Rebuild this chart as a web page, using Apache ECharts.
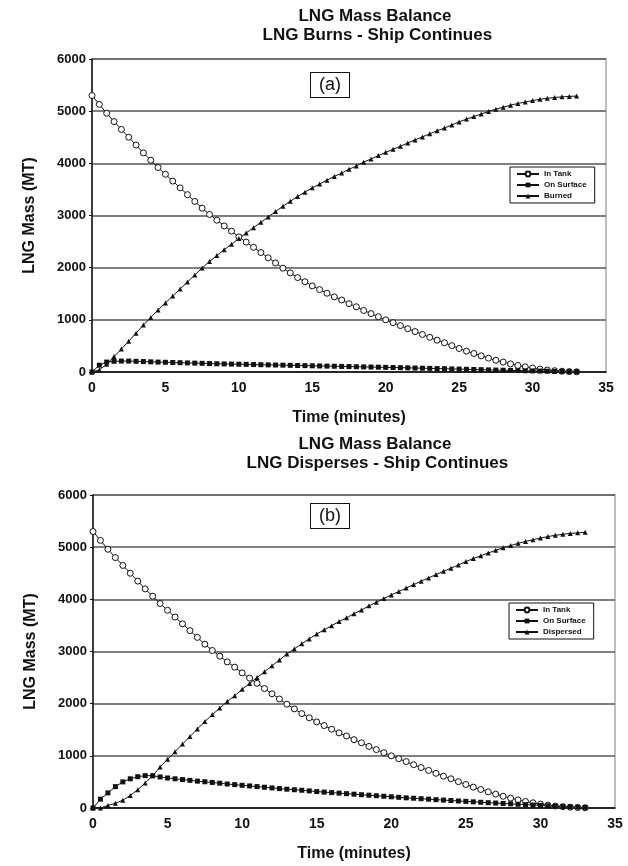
<!DOCTYPE html>
<html><head><meta charset="utf-8">
<script src="https://cdn.jsdelivr.net/npm/echarts@6/dist/echarts.min.js"></script>
<style>html,body{margin:0;padding:0;background:#fff}#c{width:628px;height:866px}</style>
</head><body><div id="c"></div>
<script>
const times = [0,0.5,1,1.5,2,2.5,3,3.5,4,4.5,5,5.5,6,6.5,7,7.5,8,8.5,9,9.5,10,10.5,11,11.5,12,12.5,13,13.5,14,14.5,15,15.5,16,16.5,17,17.5,18,18.5,19,19.5,20,20.5,21,21.5,22,22.5,23,23.5,24,24.5,25,25.5,26,26.5,27,27.5,28,28.5,29,29.5,30,30.5,31,31.5,32,32.5,33];
const inTankA = [5300,5130,4960,4800,4650,4500,4350,4200,4060,3920,3790,3660,3530,3400,3270,3140,3020,2910,2800,2700,2590,2490,2390,2290,2190,2090,1990,1900,1810,1730,1650,1580,1510,1440,1380,1310,1250,1180,1120,1060,1000,945,890,830,775,720,665,610,560,505,450,400,355,310,265,225,190,155,125,100,75,55,38,25,15,8,4];
const surfaceA = [0,130,190,205,210,210,205,200,195,190,186,182,178,174,170,166,162,158,155,152,149,146,143,140,137,134,131,128,125,122,119,116,113,110,107,104,101,98,95,92,89,86,83,80,76,73,70,66,63,59,56,52,48,45,41,37,34,30,27,24,21,18,15,13,11,9,7];
const burnedA = [0,40,150,295,440,590,745,900,1045,1190,1324,1458,1592,1726,1860,1994,2118,2232,2345,2448,2561,2664,2767,2870,2973,3076,3179,3272,3365,3448,3531,3604,3677,3750,3813,3886,3949,4022,4085,4148,4211,4269,4327,4390,4449,4507,4565,4624,4677,4736,4794,4848,4897,4945,4994,5038,5076,5115,5148,5176,5204,5227,5247,5262,5274,5283,5289];
const inTankB = [5300,5130,4960,4800,4650,4500,4350,4200,4060,3920,3790,3660,3530,3400,3270,3140,3020,2910,2800,2700,2590,2490,2390,2290,2190,2090,1990,1900,1810,1730,1650,1580,1510,1440,1380,1310,1250,1180,1120,1060,1000,945,890,830,775,720,665,610,560,505,450,400,355,310,265,225,190,155,125,100,75,55,38,25,15,8,4];
const surfaceB = [0,170,290,410,500,560,600,620,620,595,575,560,545,530,515,503,490,475,460,448,435,423,410,398,385,372,360,350,340,328,315,305,295,285,275,265,255,245,235,225,215,205,195,187,178,169,160,152,143,135,127,118,110,102,95,87,80,72,65,57,50,42,35,28,22,17,12];
const dispersedB = [0,0,50,90,150,240,350,480,620,785,935,1080,1225,1370,1515,1657,1790,1915,2040,2152,2275,2387,2500,2612,2725,2838,2950,3050,3150,3242,3335,3415,3495,3575,3645,3725,3795,3875,3945,4015,4085,4150,4215,4283,4347,4411,4475,4538,4597,4660,4723,4782,4835,4888,4940,4988,5030,5073,5110,5143,5175,5203,5227,5247,5263,5275,5284];
const xTicks = [0,5,10,15,20,25,30,35];
const yTicks = [0,1000,2000,3000,4000,5000,6000];

const pairs = v => times.map((t,i)=>[t,v[i]]);
const FONT = '"Liberation Sans", Arial, sans-serif';
const grids = [
  {left:92, top:59, width:514, height:313},
  {left:93, top:495, width:522, height:313}
];
function xAxis(i){
  return {type:'value', gridIndex:i, min:xTicks[0], max:xTicks[xTicks.length-1], interval:5,
    name:'Time (minutes)', nameLocation:'middle', nameGap:38,
    nameTextStyle:{fontFamily:FONT, fontWeight:'bold', fontSize:16, color:'#111'},
    axisLine:{lineStyle:{color:'#111', width:1.5}},
    axisTick:{show:false},
    axisLabel:{fontFamily:FONT, fontWeight:'bold', fontSize:14, color:'#111', margin:9, formatter:v=>String(v)},
    splitLine:{show:false}};
}
function yAxis(i){
  return {type:'value', gridIndex:i, min:yTicks[0], max:yTicks[yTicks.length-1], interval:1000,
    name:'LNG Mass (MT)', nameLocation:'middle', nameGap:54, nameRotate:90,
    nameTextStyle:{fontFamily:FONT, fontWeight:'bold', fontSize:16, color:'#111'},
    axisLine:{show:true, lineStyle:{color:'#111', width:1.5}},
    axisTick:{show:true, length:3, lineStyle:{color:'#111'}},
    axisLabel:{fontFamily:FONT, fontWeight:'bold', fontSize:13, color:'#111', margin:6, formatter:v=>String(v)},
    splitLine:{show:true, lineStyle:{color:'#555', width:1.5}}};
}
function ser(name, data, i, sym, size, hollow){
  return {type:'line', name, xAxisIndex:i, yAxisIndex:i, data:pairs(data),
    symbol:sym, symbolSize:size, showSymbol:true, animation:false,
    lineStyle:{color:'#111', width:1},
    itemStyle:{color: hollow ? '#fff' : '#111', borderColor:'#111', borderWidth: hollow?1:0}};
}
const legendCommon = {orient:'vertical', itemWidth:22, itemHeight:6, itemGap:3,
  textStyle:{fontFamily:FONT, fontWeight:'bold', fontSize:8, color:'#111'},
  borderColor:'#111', borderWidth:1, padding:[3,8,3,6], backgroundColor:'#fff'};

const chart = echarts.init(document.getElementById('c'), null, {renderer:'canvas'});
chart.setOption({
  backgroundColor:'#fff',
  animation:false,
  title:[
    {text:'LNG Mass Balance\n LNG Burns - Ship Continues', left:370, top:2, textAlign:'center',
     textStyle:{fontFamily:FONT, fontWeight:'bold', fontSize:17, lineHeight:19, color:'#111'}},
    {text:'LNG Mass Balance\n LNG Disperses - Ship Continues', left:370, top:430, textAlign:'center',
     textStyle:{fontFamily:FONT, fontWeight:'bold', fontSize:17, lineHeight:19, color:'#111'}}
  ],
  grid: grids.map(g=>Object.assign({show:true, borderColor:'#aaa', borderWidth:1.5, backgroundColor:'#fff'}, g)),
  xAxis:[xAxis(0), xAxis(1)],
  yAxis:[yAxis(0), yAxis(1)],
  legend:[
    Object.assign({left:510, top:167, data:['In Tank','On Surface','Burned']}, legendCommon),
    Object.assign({left:509, top:603, data:['In Tank','On Surface','Dispersed']}, legendCommon)
  ],
  graphic:[
    {type:'text', left:310, top:72, style:{text:'(a)', font:'18px '+FONT, fill:'#111',
      borderColor:'#111', borderWidth:1, padding:[3,8,3,8], backgroundColor:'#fff'}},
    {type:'text', left:310, top:503, style:{text:'(b)', font:'18px '+FONT, fill:'#111',
      borderColor:'#111', borderWidth:1, padding:[3,8,3,8], backgroundColor:'#fff'}}
  ],
  series:[
    ser('In Tank', inTankA, 0, 'circle', 6, true),
    ser('On Surface', surfaceA, 0, 'rect', 5, false),
    ser('Burned', burnedA, 0, 'triangle', 5, false),
    ser('In Tank', inTankB, 1, 'circle', 6, true),
    ser('On Surface', surfaceB, 1, 'rect', 5, false),
    ser('Dispersed', dispersedB, 1, 'triangle', 5, false)
  ]
});
</script></body></html>
